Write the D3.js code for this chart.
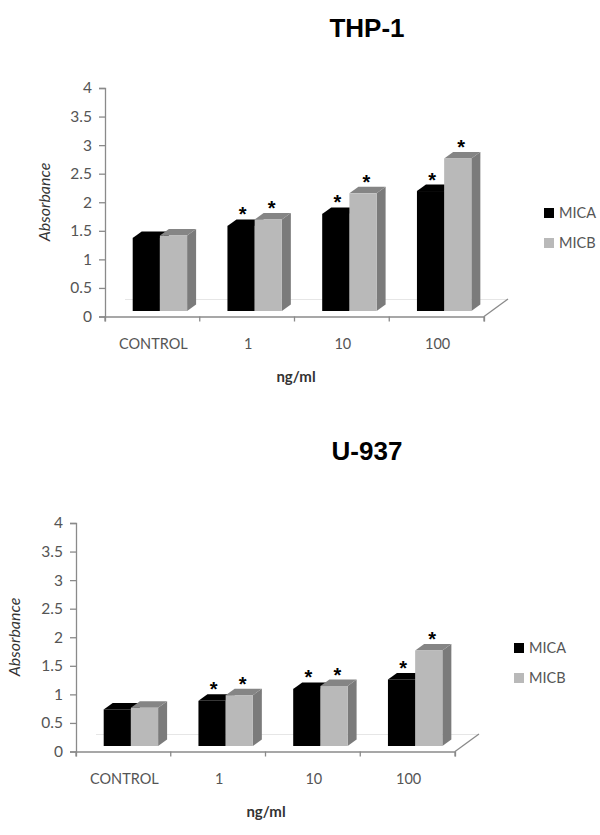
<!DOCTYPE html>
<html lang="en">
<head>
    <meta charset="UTF-8">
    <title>MICA MICB absorbance</title>
    <script src="https://cdn.jsdelivr.net/npm/d3@7"></script>
    <style>
        html, body { margin: 0; padding: 0; background: #fff; }
        svg { display: block; }
    </style>
</head>
<body>
    <svg id="mainsvg" width="600" height="835"></svg>
    <script>
        const categories = ["CONTROL", "1", "10", "100"];
        const seriesNames = ["MICA", "MICB"];
        const yTicks = [0, 0.5, 1, 1.5, 2, 2.5, 3, 3.5, 4];

        const thpMica = [1.28, 1.49, 1.70, 2.10];
        const thpMicb = [1.32, 1.60, 2.06, 2.67];
        const uMica = [0.64, 0.79, 1.00, 1.165];
        const uMicb = [0.67, 0.89, 1.05, 1.67];

        // star over a bar = significant vs control
        const starred = [false, true, true, true];

        const svg = d3.select("#mainsvg");
        const innerWidth = 379;
        const innerHeight = 228.5;
        const depthX = 9, depthY = 6.5, lift = 5.5;
        const axisColor = "#8a8a8a", textColor = "#555";
        const frontColors = ["#000", "#b9b9b9"];
        const topColors = ["#000", "#858585"];
        const sideColors = ["#000", "#7b7b7b"];

        const xScale = d3.scaleBand().domain(categories).range([0, innerWidth]);
        const yScale = d3.scaleLinear().domain([0, 4]).range([innerHeight, 0]);
        const seriesScale = d3.scaleBand().domain(seriesNames).range([27.7, 82.1]);

        function drawChart(opts) {
            const g = svg.append("g").attr("transform", `translate(${opts.left},${opts.top})`);
            const w = innerWidth, h = innerHeight;

            // floor of the 3d box
            g.append("line").attr("x1", 20).attr("x2", w + 24)
                .attr("y1", h - 17).attr("y2", h - 17)
                .attr("stroke", "#e6e6e6");
            g.append("line").attr("x1", w).attr("y1", h)
                .attr("x2", w + 24).attr("y2", h - 17.5)
                .attr("stroke", axisColor).attr("stroke-width", 1.3);

            const yAxis = d3.axisLeft(yScale).tickValues(yTicks).tickSize(6).tickPadding(7).tickFormat(d3.format("~g"));
            const xAxis = d3.axisBottom(xScale).tickSize(5).tickFormat("");
            const ax = g.append("g").call(yAxis);
            const bx = g.append("g").attr("transform", `translate(0,${h})`).call(xAxis);
            bx.selectAll(".tick").remove();
            categories.concat("end").forEach((c, i) => {
                const x = i * xScale.step();
                bx.append("line").attr("x1", x).attr("x2", x).attr("y1", 0).attr("y2", 5)
                    .attr("stroke", axisColor).attr("stroke-width", 1.3);
            });
            [ax, bx].forEach(a => {
                a.select(".domain").attr("stroke", axisColor).attr("stroke-width", 1.3);
                a.selectAll(".tick line").attr("stroke", axisColor).attr("stroke-width", 1.3);
            });
            ax.selectAll(".tick text")
                .attr("font-family", "Lato").attr("font-size", 15.5).attr("fill", textColor);

            g.selectAll(".xlabel").data(categories).join("text")
                .attr("class", "xlabel")
                .attr("x", d => xScale(d) + xScale.bandwidth() / 2 + 1)
                .attr("y", h + 32)
                .attr("text-anchor", "middle")
                .attr("font-family", "Lato").attr("font-size", 14.5)
                .attr("fill", textColor)
                .text(d => d);

            opts.values.forEach((vals, s) => {
                const name = seriesNames[s];
                const bw = seriesScale.bandwidth();
                vals.forEach((v, i) => {
                    const x0 = xScale(categories[i]) + seriesScale(name);
                    const x1 = x0 + bw;
                    const yb = yScale(0) - lift;
                    const yt = yScale(v) - lift;
                    g.append("path")
                        .attr("d", `M${x1},${yt}L${x1 + depthX},${yt - depthY}L${x1 + depthX},${yb - depthY}L${x1},${yb}Z`)
                        .attr("fill", sideColors[s]);
                    g.append("path")
                        .attr("d", `M${x0},${yt}L${x0 + depthX},${yt - depthY}L${x1 + depthX},${yt - depthY}L${x1},${yt}Z`)
                        .attr("fill", topColors[s]);
                    g.append("rect")
                        .attr("x", x0).attr("y", yt)
                        .attr("width", bw).attr("height", yb - yt)
                        .attr("fill", frontColors[s]);
                    if (starred[i]) {
                        g.append("text")
                            .attr("x", x0 + bw / 2 + (s === 0 ? 1.5 : 3.5))
                            .attr("y", yt - 4.5)
                            .attr("text-anchor", "middle")
                            .attr("font-family", "Liberation Sans")
                            .attr("font-weight", "bold")
                            .attr("font-size", 20)
                            .attr("fill", "#000")
                            .text("*");
                    }
                });
            });

            g.append("text")
                .attr("transform", `translate(${opts.yTitleX},${opts.yTitleY}) rotate(-90)`)
                .attr("text-anchor", "middle")
                .attr("font-family", "Lato").attr("font-style", "italic")
                .attr("font-size", 16).attr("fill", "#333")
                .text("Absorbance");
            g.append("text")
                .attr("x", opts.unitX).attr("y", h + 65)
                .attr("text-anchor", "middle")
                .attr("font-family", "Lato").attr("font-weight", "bold")
                .attr("font-size", 15).attr("fill", "#333")
                .text("ng/ml");

            seriesNames.forEach((name, s) => {
                const ly = opts.legendY + s * 30;
                g.append("rect").attr("x", opts.legendX).attr("y", ly)
                    .attr("width", 10).attr("height", 10)
                    .attr("fill", frontColors[s]);
                g.append("text").attr("x", opts.legendX + 15).attr("y", ly + 10)
                    .attr("font-family", "Lato").attr("font-size", 14.5)
                    .attr("fill", textColor)
                    .text(name);
            });

            svg.append("text")
                .attr("x", 367).attr("y", opts.titleY)
                .attr("text-anchor", "middle")
                .attr("font-family", "Liberation Sans").attr("font-weight", "bold")
                .attr("font-size", 26).attr("fill", "#000")
                .text(opts.title);
        }

        drawChart({
            title: "THP-1", titleY: 37, left: 105, top: 88,
            values: [thpMica, thpMicb],
            yTitleX: -55, yTitleY: 114, unitX: 191,
            legendX: 439, legendY: 120
        });
        drawChart({
            title: "U-937", titleY: 460, left: 76, top: 523,
            values: [uMica, uMicb],
            yTitleX: -56, yTitleY: 114, unitX: 190,
            legendX: 438, legendY: 120
        });
    </script>
</body>
</html>
